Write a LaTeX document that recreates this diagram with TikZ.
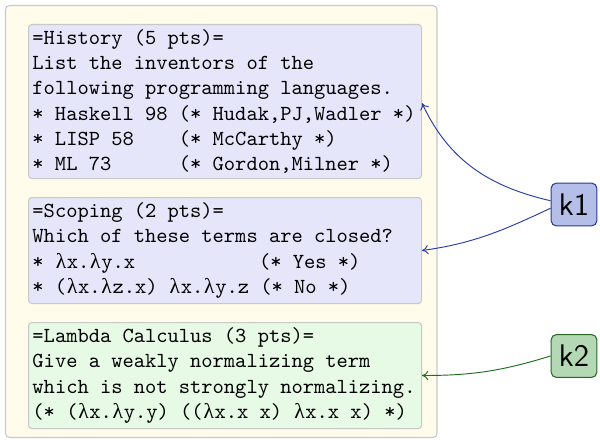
\documentclass[tikz,border=0pt]{standalone}
\usepackage{fontspec}
\newfontfamily\lamfont{Liberation Serif}
\newcommand\lam{\makebox[0.555em]{\lamfont λ}}
% plain monospaced word spaces inside aligned nodes
\newcommand\monosp{\spaceskip=0pt\xspaceskip=0pt\relax}
\usetikzlibrary{arrows.meta}
\definecolor{sheetfill}{RGB}{255,252,235}
\definecolor{frame}{RGB}{200,200,200}
\definecolor{qblue}{RGB}{230,230,250}
\definecolor{qgreen}{RGB}{230,250,230}
\definecolor{kblue}{RGB}{180,190,230}
\definecolor{kbluedraw}{RGB}{40,60,150}
\definecolor{kgreen}{RGB}{180,215,180}
\definecolor{kgreendraw}{RGB}{40,105,40}
\definecolor{arrblue}{RGB}{40,60,170}
\definecolor{arrgreen}{RGB}{30,110,30}
\tikzset{
  sheet/.style={draw=frame, fill=sheetfill, line width=0.5pt, rounded corners=2pt},
  question/.style={draw=frame, line width=0.5pt, rounded corners=1.6pt,
    anchor=north west, minimum width=188.64pt, text width=184.84pt,
    inner xsep=1.9pt, inner ysep=0pt, align=left,
    font=\ttfamily\fontsize{10.3}{12.1}\selectfont},
  keybox/.style={rounded corners=2.6pt, line width=0.5pt, minimum width=22pt,
    minimum height=20.6pt, inner sep=0pt, font=\sffamily\fontsize{15}{18}\selectfont},
  link/.style={-{To[length=3pt,width=4.5pt]}, line width=0.45pt},
}
\begin{document}
\begin{tikzpicture}[x=0.48pt, y=0.48pt]
  \useasboundingbox (0,0) rectangle (600,-439);
  % answer sheet
  \draw[sheet] (5.5,-5.5) rectangle (437,-437.5);
  % questions
  \node[question, fill=qblue, minimum height=73.92pt] (q1) at (28,-24)
    {\monosp =History (5 pts)=\\
     List the inventors of the\\
     following programming languages.\\
     \mbox{* Haskell 98 (* Hudak,PJ,Wadler *)}\\
     \mbox{* LISP 58~~~~(* McCarthy *)}\\
     \mbox{* ML 73~~~~~~(* Gordon,Milner *)}};
  \node[question, fill=qblue, minimum height=50.88pt] (q2) at (28,-197)
    {\monosp =Scoping (2 pts)=\\
     Which of these terms are closed?\\
     \mbox{* \lam x.\lam y.x~~~~~~~~~~~(* Yes *)}\\
     \mbox{* (\lam x.\lam z.x) \lam x.\lam y.z (* No *)}};
  \node[question, fill=qgreen, minimum height=50.88pt] (q3) at (28,-322)
    {\monosp =Lambda Calculus (3 pts)=\\
     Give a weakly normalizing term\\
     \mbox{which is not strongly normalizing.}\\
     \mbox{(* (\lam x.\lam y.y) ((\lam x.x x) \lam x.x x) *)}};
  % keys
  \node[keybox, draw=kbluedraw, fill=kblue] (k1) at (574,-204.5) {k1};
  \node[keybox, draw=kgreendraw, fill=kgreen] (k2) at (574,-356) {k2};
  % links from keys to questions
  \draw[link, arrblue] ([yshift=1.8pt]k1.west) to[out=167, in=-65] ([yshift=-0.8pt]q1.east);
  \draw[link, arrblue] ([yshift=-1.8pt]k1.west) to[out=205, in=8] (q2.east);
  \draw[link, arrgreen] (k2.west) to[out=197, in=0] (q3.east);
\end{tikzpicture}
\end{document}
